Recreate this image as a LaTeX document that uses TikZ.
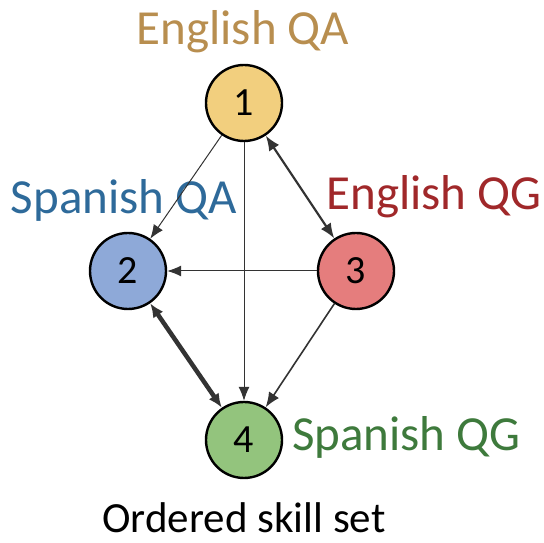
\documentclass[tikz,border=0pt]{standalone}
\usepackage{fontspec}
\setmainfont{Carlito}
\usetikzlibrary{arrows.meta}
\definecolor{c1}{HTML}{F2CF7E}
\definecolor{c2}{HTML}{8EA9D8}
\definecolor{c3}{HTML}{E57D7D}
\definecolor{c4}{HTML}{93C47D}
\definecolor{t1}{HTML}{B88E4F}
\definecolor{t2}{HTML}{2E6A9A}
\definecolor{t3}{HTML}{A0282A}
\definecolor{t4}{HTML}{3E7A3C}
\definecolor{ln}{HTML}{333333}
\begin{document}
\begin{tikzpicture}[x=1pt,y=1pt,
  skill/.style={circle,draw=black,line width=2.4pt,minimum size=76pt,inner sep=0pt,font=\fontsize{40}{44}\selectfont},
  lab/.style={font=\fontsize{49}{54}\selectfont,inner sep=0pt},
  thin/.style={draw=ln,line width=1pt,-{Latex[length=14pt,width=11pt]}},
  med/.style={draw=ln,line width=2.2pt,{Latex[length=15pt,width=12pt]}-{Latex[length=15pt,width=12pt]}},
  medone/.style={draw=ln,line width=1.6pt,-{Latex[length=15pt,width=12pt]}},
  thick/.style={draw=ln,line width=4.5pt,{Latex[length=14pt,width=12pt]}-{Latex[length=14pt,width=12pt]}}]
\useasboundingbox (0,0) rectangle (544,543);
\node[skill,fill=c1] (n1) at (244,440) {1};
\node[skill,fill=c2] (n2) at (128,272) {2};
\node[skill,fill=c3] (n3) at (356,272) {3};
\node[skill,fill=c4] (n4) at (244,103) {4};
\node[lab,text=t1] (l1) at (243,511) {English QA};
\node[lab,text=t2] (l2) at (124,343) {Spanish QA};
\node[lab,text=t3] (l3) at (434,346) {English QG};
\node[lab,text=t4,anchor=west] (l4) at (292,106) {Spanish QG};
\node[lab,text=black,font=\fontsize{43}{48}\selectfont] (l5) at (244,25) {Ordered skill set};
\draw[thin] (n1) -- (n2);
\draw[thin] (n1) -- (n4);
\draw[thin] (n3) -- (n2);
\draw[med] (n1) -- (n3);
\draw[medone] (n3) -- (n4);
\draw[thick] (n2) -- (n4);
\end{tikzpicture}
\end{document}
